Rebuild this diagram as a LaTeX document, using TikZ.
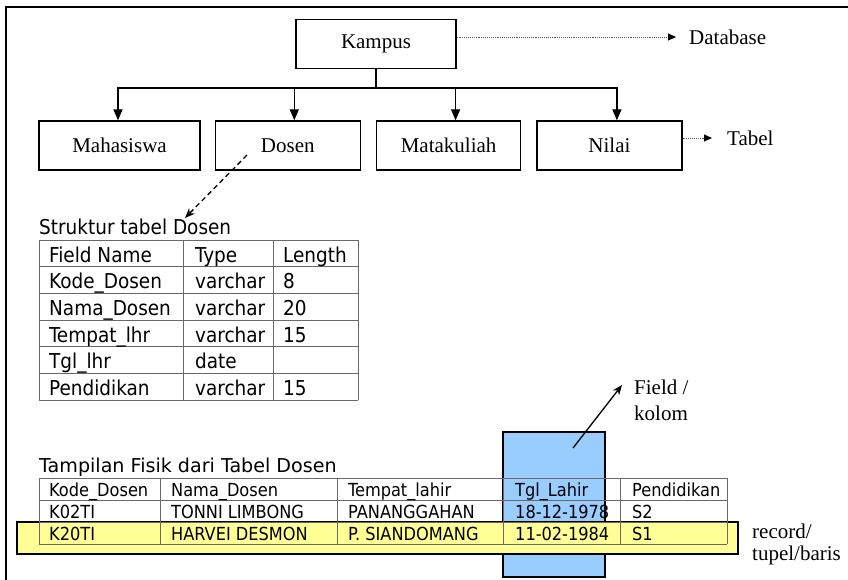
\documentclass[tikz,border=0pt]{standalone}
\usepackage{fontspec}
\setmainfont{Liberation Serif}
\newfontfamily\cellfont{DejaVu Sans Condensed}
\newfontfamily\titlefont{DejaVu Sans}
\usetikzlibrary{arrows.meta,calc,positioning}
\definecolor{colblue}{RGB}{153,204,255}
\definecolor{rowyellow}{RGB}{255,255,150}
\definecolor{gridgray}{RGB}{105,105,105}

\tikzset{
  entity/.style={draw,line width=1.3pt,minimum height=49pt,inner sep=0pt,font=\fontsize{21}{24}\selectfont},
  branch/.style={line width=1.3pt,-{Triangle[length=11pt,width=9pt]}},
  hint/.style={densely dotted,line width=0.9pt,gray!70!black,-{Triangle[length=8pt,width=7pt,color=black]}},
  notetext/.style={anchor=west,inner sep=0pt,font=\fontsize{21}{24}\selectfont},
  gridline/.style={gridgray,line width=1pt},
  cellA/.style={anchor=base west,inner sep=0pt,font=\cellfont\fontsize{20.5}{24}\selectfont},
  cellB/.style={anchor=base west,inner sep=0pt,font=\cellfont\fontsize{18}{20}\selectfont},
}

\begin{document}
\begin{tikzpicture}[x=1pt,y=-1pt]
  \useasboundingbox (0,0) rectangle (848,580);
  \clip (0,0) rectangle (848,580);
  \draw[line width=2pt] (6,7) rectangle (870,600);

  % hierarchy
  \node[entity,minimum width=160pt] (kampus) at (376,44) {Kampus};
  \node[entity,minimum width=161pt] (mhs) at (119.5,145.5) {Mahasiswa};
  \node[entity,minimum width=145pt,right=14pt of mhs] (dosen) {Dosen};
  \node[entity,minimum width=144pt,right=15pt of dosen] (mk) {Matakuliah};
  \node[entity,minimum width=145pt,right=15pt of mk] (nilai) {Nilai};

  \coordinate (fork) at (376,88);
  \draw[line width=1.3pt] (kampus.south) -- (fork);
  \draw[branch] (fork) -| ([xshift=-1.5pt]mhs.north);
  \draw[branch] (fork) -| ([xshift=6.5pt]dosen.north);
  \draw[branch] (fork) -| ([xshift=7pt]mk.north);
  \draw[branch] (fork) -| ([xshift=7.5pt]nilai.north);

  \node[notetext] (db) at (689,37) {Database};
  \node[notetext] (tbl) at (727,138) {Tabel};
  \draw[hint] ([yshift=7pt]kampus.east) -- ([xshift=-13pt]db.west);
  \draw[hint] ([yshift=7.5pt]nilai.east) -- ([xshift=-15pt]tbl.west);

  % structure of Dosen
  \node[cellA] (sttitle) at (39,234) {Struktur tabel Dosen};
  \coordinate (dtail) at (247,155);
  \coordinate (dhead) at (185,218);
  \draw[dash pattern=on 5pt off 3.5pt,line width=1.3pt,-{Stealth[length=10pt,width=8pt]}] (dtail) -- (dhead);

  \foreach \y in {240,266.67,293.33,320,346.67,373.33,400}
    \draw[gridline] (39,\y) -- (358,\y);
  \foreach \x in {39,183,273,358}
    \draw[gridline] (\x,240) -- (\x,400);
  \foreach \a/\b/\c [count=\r from 0] in {Field Name/Type/Length, Kode\_Dosen/varchar/8,
      Nama\_Dosen/varchar/20, Tempat\_lhr/varchar/15, Tgl\_lhr/date/, Pendidikan/varchar/15} {
    \pgfmathsetmacro\yb{240+26.67*(\r+1)-4.5}
    \node[cellA] (s\r a) at (49,\yb) {\a};
    \node[cellA] (s\r b) at (195,\yb) {\b};
    \node[cellA] (s\r c) at (283,\yb) {\c};
  }

  % physical view
  \node[anchor=base west,inner sep=0pt,font=\titlefont\fontsize{19.1}{22}\selectfont] (tptitle) at (39,472) {Tampilan Fisik dari Tabel Dosen};
  \node[draw,fill=colblue,line width=1.3pt,minimum width=102pt,minimum height=145pt,inner sep=0pt] (colhl) at (554,504.5) {};
  \node[draw,fill=rowyellow,line width=1.8pt,minimum width=721pt,minimum height=32pt,inner sep=0pt] (rowhl) at (377.5,538) {};

  \foreach \y in {478,500,522,544}
    \draw[gridline] (39,\y) -- (727,\y);
  \foreach \x in {39,160,337,503,620,727}
    \draw[gridline] (\x,478) -- (\x,544);
  \foreach \a/\b/\c/\d/\e [count=\r from 0] in {Kode\_Dosen/Nama\_Dosen/Tempat\_lahir/Tgl\_Lahir/Pendidikan,
      K02TI/TONNI LIMBONG/PANANGGAHAN/18-12-1978/S2, K20TI/HARVEI DESMON/P. SIANDOMANG/11-02-1984/S1} {
    \pgfmathsetmacro\yb{478+22*(\r+1)-3.5}
    \node[cellB] (p\r a) at (49,\yb) {\a};
    \node[cellB] (p\r b) at (171,\yb) {\b};
    \node[cellB] (p\r c) at (348,\yb) {\c};
    \node[cellB] (p\r d) at (515,\yb) {\d};
    \node[cellB] (p\r e) at (632,\yb) {\e};
  }

  \node[notetext,align=left,font=\fontsize{21}{26}\selectfont] (fieldlbl) at (634,400) {Field /\\kolom};
  \node[notetext,align=left,font=\fontsize{21}{22}\selectfont] (reclbl) at (752,544) {record/\\tupel/baris};
  \coordinate (ftail) at (573,448);
  \coordinate (fhead) at (622,385);
  \draw[line width=1.3pt,-{Stealth[length=10pt,width=8pt]}] (ftail) -- (fhead);
\end{tikzpicture}
\end{document}
